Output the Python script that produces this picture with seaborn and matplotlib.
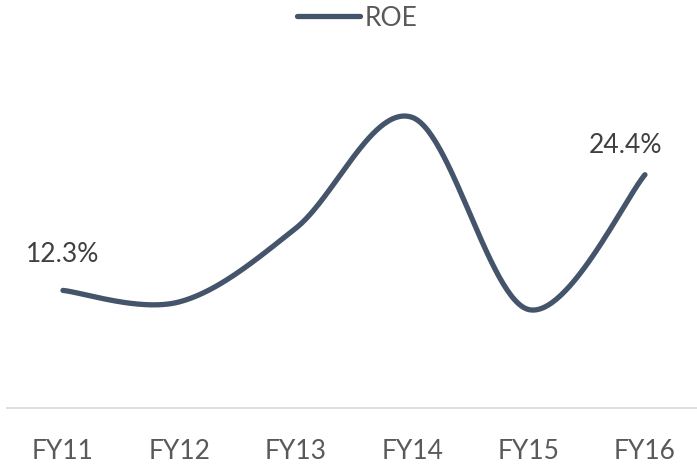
import numpy as np
import pandas as pd
import matplotlib
matplotlib.use("Agg")
import matplotlib.pyplot as plt
import seaborn as sns

categories = ["FY11", "FY12", "FY13", "FY14", "FY15", "FY16"]
roe = [12.3, 11.1, 18.8, 30.4, 10.3, 24.4]
labelled = {0: "12.3%", 5: "24.4%"}

sns.set_theme(style="white")
plt.rcParams['font.family'] = ['Lato', 'DejaVu Sans']

LINE = "#44546A"
TEXT = "#595959"
LABEL = "#404040"
FS = 19

# Excel-like smoothing (Catmull-Rom / cubic Bezier through points)
x = np.arange(len(roe), dtype=float)
y = np.array(roe, dtype=float)
xs, ys = [], []
n = len(x)
for i in range(n - 1):
    p0 = np.array([x[max(i - 1, 0)], y[max(i - 1, 0)]])
    p1 = np.array([x[i], y[i]])
    p2 = np.array([x[i + 1], y[i + 1]])
    p3 = np.array([x[min(i + 2, n - 1)], y[min(i + 2, n - 1)]])
    c1 = p1 + (p2 - p0) / 6.0
    c2 = p2 - (p3 - p1) / 6.0
    t = np.linspace(0, 1, 60)[:, None]
    pts = ((1 - t) ** 3) * p1 + 3 * ((1 - t) ** 2) * t * c1 + 3 * (1 - t) * t ** 2 * c2 + t ** 3 * p2
    xs.extend(pts[:, 0]); ys.extend(pts[:, 1])
smooth = pd.DataFrame({"x": xs, "y": ys, "series": "ROE"})

fig = plt.figure(figsize=(6.97, 4.66), dpi=100)
ax = fig.add_axes([7 / 697, 1 - 408 / 466, 1 - 7 / 697, (408 - 60) / 466])
sns.lineplot(data=smooth, x="x", y="y", hue="series", palette=[LINE], linewidth=3.8,
             ax=ax, sort=False, estimator=None, legend=False)
ax.lines[0].set_solid_capstyle("round")

ax.set_xlim(-0.481, 5.447)
ax.set_ylim(0, 36.4)
ax.set_xticks(x)
ax.set_xticklabels(categories, fontsize=FS, color=TEXT)
ax.tick_params(axis="x", length=0, pad=22)
ax.set_yticks([])
ax.set_xlabel(""); ax.set_ylabel("")
for s in ["top", "left", "right"]:
    ax.spines[s].set_visible(False)
ax.spines["bottom"].set_color("#D9D9D9")
ax.spines["bottom"].set_linewidth(1.2)

offsets = {0: (0, 26), 5: (-14, 21)}
for i, lab in labelled.items():
    ax.annotate(lab, (x[i], y[i]), xytext=offsets[i], textcoords="offset points",
                ha="center", va="center", fontsize=FS, color=LABEL)

from matplotlib.lines import Line2D
h = Line2D([0], [0], color=LINE, linewidth=3.8, solid_capstyle="round")
fig.legend([h], ["ROE"], loc="center", bbox_to_anchor=(0.512, 1 - 18 / 466), frameon=False,
           fontsize=FS, labelcolor=TEXT, handlelength=2.4, handletextpad=0.15)

fig.savefig("out.png", dpi=100)
